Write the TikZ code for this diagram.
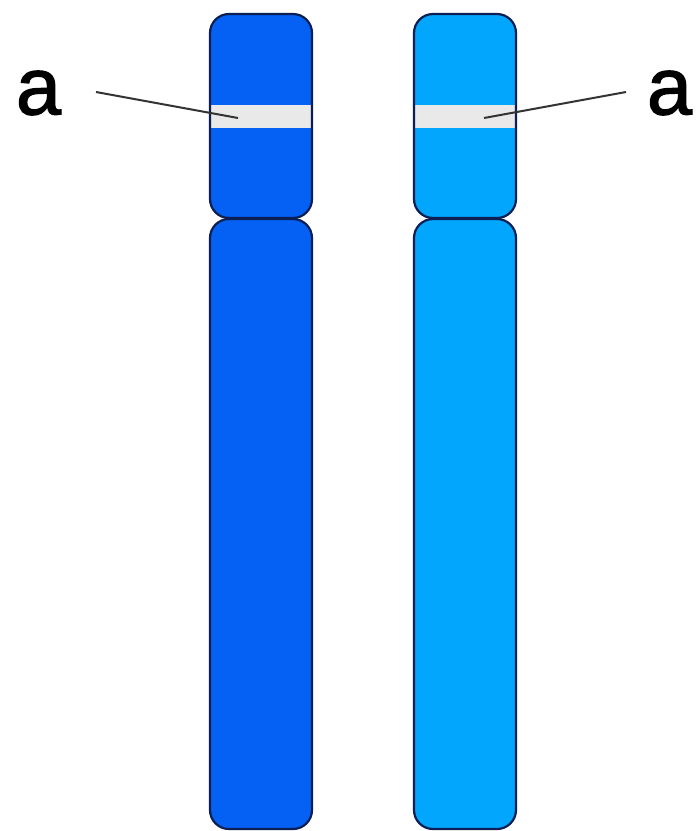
\documentclass[tikz,border=0pt]{standalone}
\usepackage{fontspec}
\setmainfont{Liberation Sans}
\newfontfamily\letterfont[FakeBold=1.6]{Liberation Sans}
\definecolor{chromA}{HTML}{0461F4}
\definecolor{chromB}{HTML}{02A6FC}
\definecolor{outlineC}{HTML}{0B1F55}
\definecolor{bandC}{HTML}{E9E9E9}
\definecolor{leaderC}{HTML}{333333}
\tikzset{
  x=1pt,y=-1pt,
  arm/.style={rounded corners=19pt,draw=outlineC,line width=2.2pt},
  bandbar/.style={fill=bandC,draw=none},
  leader/.style={draw=leaderC,line width=2pt},
  letter/.style={font=\letterfont\fontsize{81pt}{81pt}\selectfont,text=black,inner sep=0pt}
}
\begin{document}
\begin{tikzpicture}
  \useasboundingbox (0,0) rectangle (697,831);
  \fill[white] (0,0) rectangle (697,831);

  % Left chromatid: short arm, band, long arm
  \fill[chromA,rounded corners=19pt] (210,14) rectangle (312,218);
  \node[bandbar,minimum width=100pt,minimum height=23pt,inner sep=0pt] (bandL) at (261,116.5) {};
  \draw[arm] (210,14) rectangle (312,218);
  \draw[arm,fill=chromA] (210,219) rectangle (312,829);

  % Right chromatid: short arm, band, long arm
  \fill[chromB,rounded corners=19pt] (414,14) rectangle (516,218);
  \node[bandbar,minimum width=100pt,minimum height=23pt,inner sep=0pt] (bandR) at (465,116.5) {};
  \draw[arm] (414,14) rectangle (516,218);
  \draw[arm,fill=chromB] (414,219) rectangle (516,829);

  % Locus labels and their leaders
  \node[letter] (labelL) at (38.5,93) {a};
  \node[letter] (labelR) at (669.5,93) {a};
  \coordinate (tipL) at (238,118);
  \coordinate (tipR) at (484,118);
  \coordinate (startL) at (96,92);
  \coordinate (startR) at (626,92);
  \draw[leader] (startL) -- (tipL);
  \draw[leader] (startR) -- (tipR);
\end{tikzpicture}
\end{document}
